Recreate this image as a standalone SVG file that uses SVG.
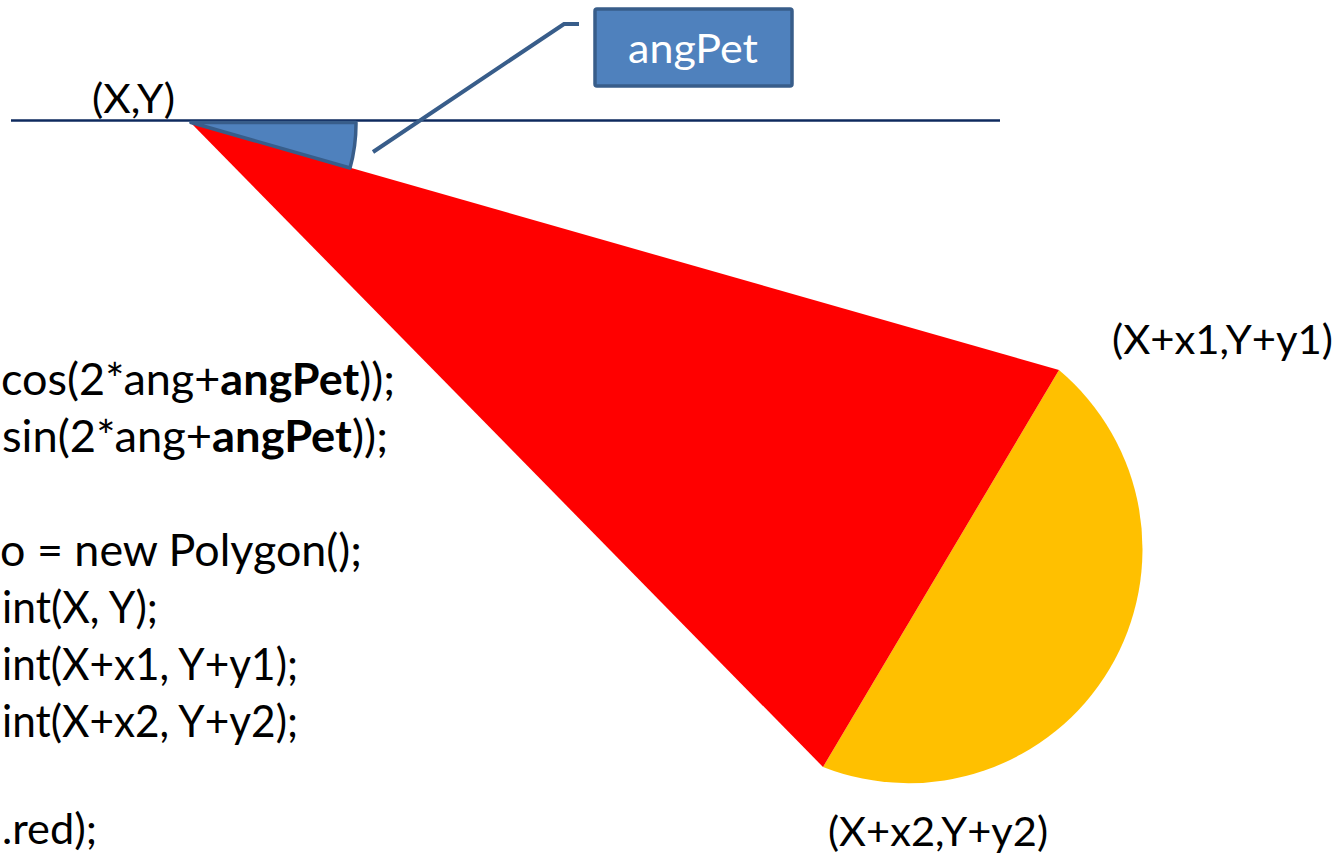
<svg xmlns="http://www.w3.org/2000/svg" width="1342" height="856" viewBox="0 0 1342 856">
  <style>
    .t { font-family: Lato, "Open Sans", "Liberation Sans", sans-serif; fill: #000000; }
    .code { font-size: 44px; }
    .lbl { font-size: 41px; }
    .b { font-weight: bold; }
    .blue { fill: #4F81BD; stroke: #385D8A; stroke-width: 3.5; stroke-linejoin: round; }
  </style>
  <rect x="0" y="0" width="1342" height="856" fill="#ffffff"/>

  <g id="segment">
    <path d="M1059,370 A234,234 0 0 1 823,767 Z" fill="#FFC000"/>
  </g>
  <g id="triangle">
    <polygon points="190,122 1059,370 823,767" fill="#FF0000"/>
  </g>
  <g id="baseline">
    <line x1="11" y1="120.5" x2="1000" y2="120.5" stroke="#0E2A5E" stroke-width="2.5"/>
  </g>
  <g id="angle-wedge">
    <path class="blue" d="M191,122.5 L356,122.5 A165,165 0 0 1 350,168 Z"/>
  </g>

  <g id="connectors">
    <polyline points="373,152 564,24 579,24" fill="none" stroke="#385D8A" stroke-width="4"/>
  </g>

  <g id="angPet-box">
    <rect class="blue" x="595" y="9" width="197" height="77" rx="2"/>
    <text class="t" x="628" y="63" font-size="40" textLength="130" lengthAdjust="spacingAndGlyphs" style="fill:#ffffff">angPet</text>
  </g>

  <g id="labels">
    <text class="t lbl" x="92" y="113" textLength="83" lengthAdjust="spacingAndGlyphs">(X,Y)</text>
    <text class="t lbl" x="1112" y="354" textLength="221" lengthAdjust="spacingAndGlyphs">(X+x1,Y+y1)</text>
    <text class="t lbl" x="828" y="846" textLength="220" lengthAdjust="spacingAndGlyphs">(X+x2,Y+y2)</text>
  </g>

  <g id="code">
    <text class="t code" x="1" y="395" textLength="394" lengthAdjust="spacingAndGlyphs">cos(2*ang+<tspan class="b">angPet</tspan>));</text>
    <text class="t code" x="2" y="452" textLength="386" lengthAdjust="spacingAndGlyphs">sin(2*ang+<tspan class="b">angPet</tspan>));</text>
    <text class="t code" x="0" y="566" textLength="362" lengthAdjust="spacingAndGlyphs">o = new Polygon();</text>
    <text class="t code" x="2" y="623" textLength="156" lengthAdjust="spacingAndGlyphs">int(X, Y);</text>
    <text class="t code" x="2" y="680" textLength="296" lengthAdjust="spacingAndGlyphs">int(X+x1, Y+y1);</text>
    <text class="t code" x="2" y="737" textLength="296" lengthAdjust="spacingAndGlyphs">int(X+x2, Y+y2);</text>
    <text class="t" x="2" y="844" font-size="42" textLength="95" lengthAdjust="spacingAndGlyphs">.red);</text>
  </g>
</svg>
